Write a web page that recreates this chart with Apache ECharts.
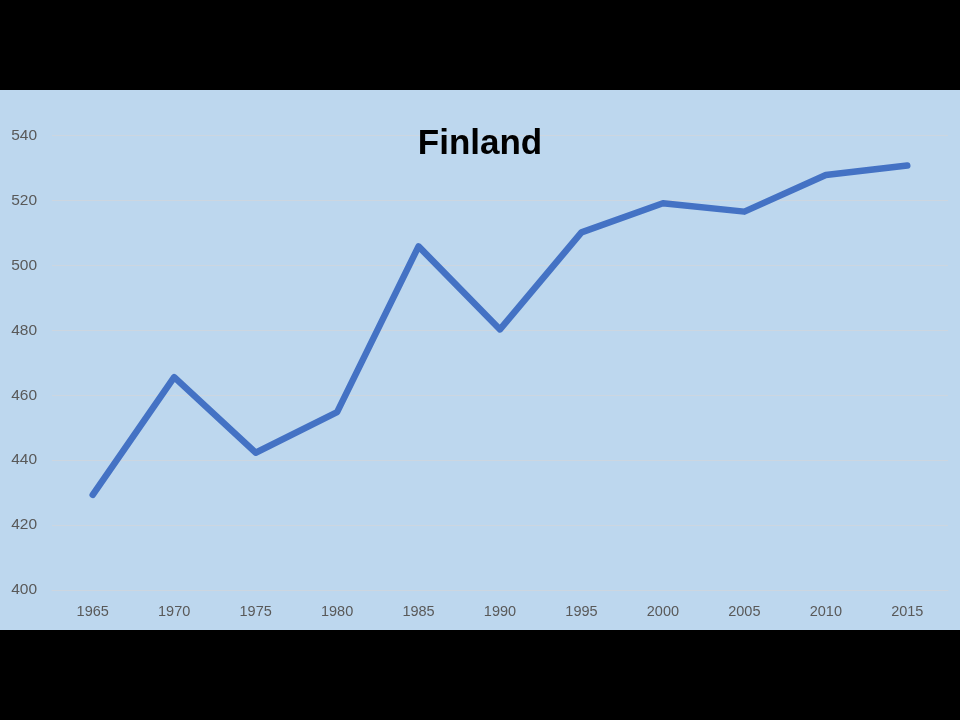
<!DOCTYPE html>
<html>
<head>
<meta charset="utf-8">
<script src="https://cdn.jsdelivr.net/npm/echarts@6/dist/echarts.min.js"></script>
<style>
html,body{margin:0;padding:0;background:#000;width:960px;height:720px;overflow:hidden;}
#chart{position:absolute;left:0;top:90px;width:960px;height:540px;background:#BDD7EE;}
</style>
</head>
<body>
<div id="chart"></div>
<script>
const title = "Finland";
const years = ["1965","1970","1975","1980","1985","1990","1995","2000","2005","2010","2015"];
const values = [429.3, 465.6, 442.3, 454.8, 505.9, 480.3, 510.2, 519.2, 516.6, 527.9, 530.8];
const yMin = 400, yMax = 540, yStep = 20;

const chart = echarts.init(document.getElementById('chart'), null, {renderer:'canvas'});
chart.setOption({
  backgroundColor: '#BDD7EE',
  animation: false,
  title: {
    text: title,
    left: 'center',
    top: 32,
    textStyle: {fontFamily: 'Liberation Sans, Arial, sans-serif', fontSize: 35, fontWeight: 'bold', color: '#000'}
  },
  grid: {left: 52, right: 12, top: 45.7, bottom: 40, containLabel: false},
  xAxis: {
    type: 'category',
    data: years,
    boundaryGap: true,
    axisLine: {show: true, lineStyle: {color: '#CCD6E0', width: 1}},
    axisTick: {show: false},
    axisLabel: {color: '#595959', fontSize: 14.5, fontFamily: 'Liberation Sans, Arial, sans-serif', margin: 14}
  },
  yAxis: {
    type: 'value',
    min: yMin, max: yMax, interval: yStep,
    axisLine: {show: false},
    axisTick: {show: false},
    splitLine: {lineStyle: {color: '#CCD6E0', width: 1}},
    axisLabel: {color: '#595959', fontSize: 15.5, fontFamily: 'Liberation Sans, Arial, sans-serif', margin: 15}
  },
  series: [{
    type: 'line',
    data: values,
    showSymbol: false,
    symbol: 'none',
    lineStyle: {color: '#4472C4', width: 6.5, cap: 'round', join: 'round'},
    itemStyle: {color: '#4472C4'}
  }]
});
</script>
</body>
</html>
